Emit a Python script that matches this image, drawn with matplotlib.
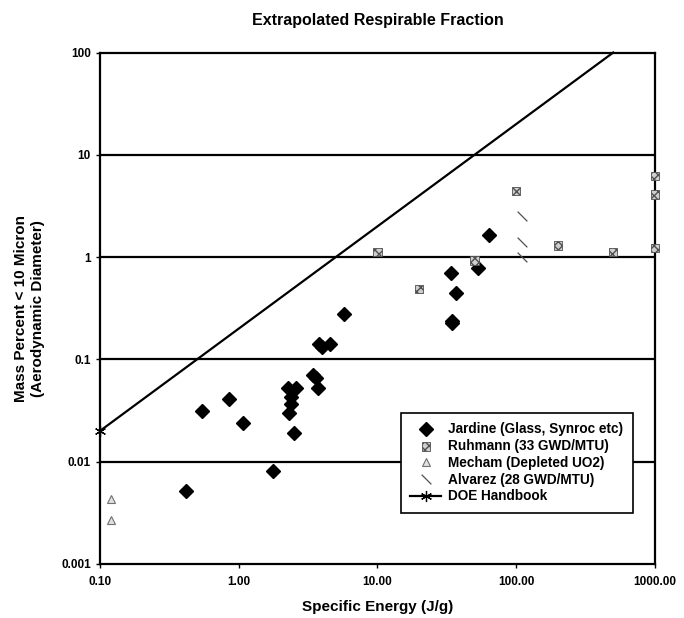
import matplotlib
matplotlib.use('Agg')
import matplotlib.pyplot as plt
from matplotlib.ticker import FixedLocator, NullLocator

plt.rcParams['font.family'] = ['Liberation Sans', 'DejaVu Sans']
plt.rcParams['font.weight'] = 'bold'

# data
jardine_x = [0.42, 0.54, 0.85, 1.07, 1.76, 2.25, 2.31, 2.37, 2.39, 2.5, 2.6,
             3.45, 3.6, 3.7, 3.8, 4.0, 4.55, 5.7, 34, 34.5, 34.5, 37, 53, 64]
jardine_y = [0.0052, 0.031, 0.041, 0.024, 0.0082, 0.052, 0.030, 0.0365, 0.043, 0.019, 0.053,
             0.070, 0.066, 0.053, 0.14, 0.131, 0.14, 0.28, 0.70, 0.24, 0.225, 0.445, 0.78, 1.65]

ruhmann_x = [10, 20, 50, 100, 200, 500, 1000, 1000, 1000]
ruhmann_y = [1.12, 0.49, 0.93, 4.4, 1.3, 1.12, 6.2, 4.1, 1.22]

mecham_x = [0.12, 0.12]
mecham_y = [0.0043, 0.0027]

alvarez_x = [110, 110, 110]
alvarez_y = [2.5, 1.4, 1.0]

doe_x = [0.1, 500]
doe_y = [0.02, 100]

x_ticks = [0.1, 1, 10, 100, 1000]
x_labels = ['0.10', '1.00', '10.00', '100.00', '1000.00']
y_ticks = [0.001, 0.01, 0.1, 1, 10, 100]
y_labels = ['0.001', '0.01', '0.1', '1', '10', '100']

fig = plt.figure(figsize=(6.84, 6.18), dpi=100)
ax = fig.add_axes([0.1462, 0.0874, 0.8114, 0.8276])
ax.set_xscale('log')
ax.set_yscale('log')
ax.set_xlim(0.1, 1000)
ax.set_ylim(0.001, 100)

for yv in y_ticks[1:-1]:
    ax.axhline(yv, color='black', lw=1.6, zorder=1)

ax.plot(jardine_x, jardine_y, ls='none', marker='D', ms=7, color='black',
        label='Jardine (Glass, Synroc etc)', zorder=3)
ax.scatter(ruhmann_x, ruhmann_y, marker='s', s=36, facecolor='#cfcfcf',
           edgecolor='#505050', hatch='xxxx', linewidths=0.6,
           label='Ruhmann (33 GWD/MTU)', zorder=3, clip_on=False)
ax.plot(mecham_x, mecham_y, ls='none', marker='^', ms=6, mfc='#e0e0e0', mec='#707070',
        mew=0.8, label='Mecham (Depleted UO2)', zorder=3)
slash = [(-1, 1), (1, -1)]
ax.plot(alvarez_x, alvarez_y, ls='none', marker=slash, ms=7, mec='#505050', mew=0.9,
        label='Alvarez (28 GWD/MTU)', zorder=3)
ax.plot(doe_x, doe_y, color='black', lw=1.6, marker=(6, 2, 0), ms=8, mew=0.9,
        markevery=[0], label='DOE Handbook', zorder=3, clip_on=False)

ax.xaxis.set_major_locator(FixedLocator(x_ticks))
ax.xaxis.set_minor_locator(NullLocator())
ax.set_xticklabels(x_labels)
ax.yaxis.set_major_locator(FixedLocator(y_ticks))
ax.yaxis.set_minor_locator(NullLocator())
ax.set_yticklabels(y_labels)
ax.tick_params(axis='both', labelsize=8.5, length=3, width=1, direction='out')
ax.tick_params(axis='x', pad=6)

for sp in ax.spines.values():
    sp.set_linewidth(1.6)

ax.set_title('Extrapolated Respirable Fraction', fontsize=11.5, fontweight='bold', pad=20)
ax.set_xlabel('Specific Energy (J/g)', fontsize=11, fontweight='bold', labelpad=8)
ax.set_ylabel('Mass Percent < 10 Micron\n(Aerodynamic Diameter)', fontsize=11,
              fontweight='bold', labelpad=12)

leg = ax.legend(loc='upper left', bbox_to_anchor=(0.5415, 0.2953), fontsize=9.8,
                frameon=True, fancybox=False, framealpha=1, edgecolor='black',
                handlelength=2.3, handletextpad=0.5, labelspacing=0.2,
                borderpad=0.7, borderaxespad=0)
leg.get_frame().set_linewidth(1.2)
leg.set_zorder(5)

fig.savefig('out.png', dpi=100)
